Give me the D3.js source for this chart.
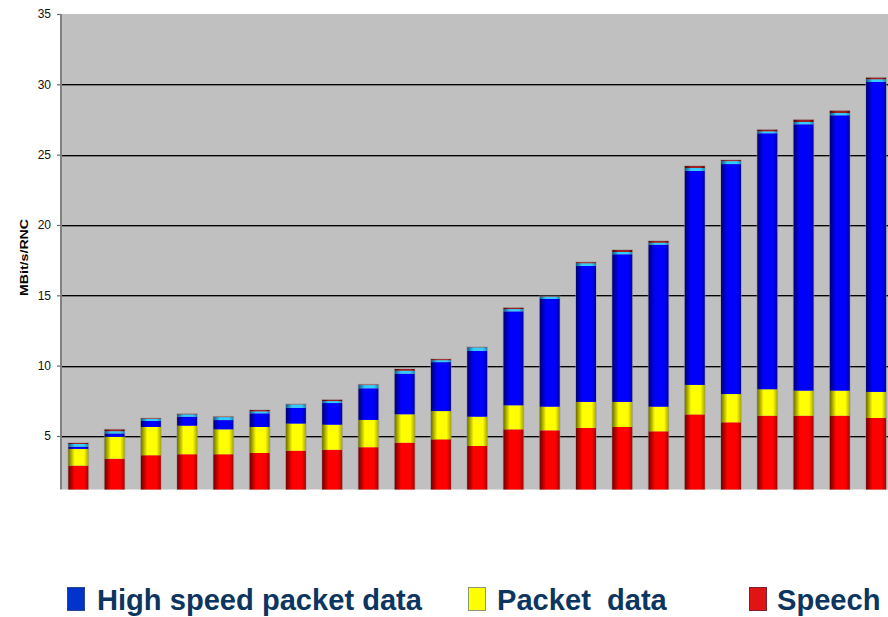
<!DOCTYPE html>
<html>
<head>
<meta charset="utf-8">
<script src="https://cdn.jsdelivr.net/npm/d3@7/dist/d3.min.js"></script>
<style>
  html, body { margin: 0; padding: 0; background: #ffffff; }
  svg { display: block; font-family: "Liberation Sans", Arial, Helvetica, sans-serif; }
</style>
</head>
<body>
<svg id="chart" width="888" height="617"></svg>
<script>
// Sites / RNC configurations along the horizontal axis (not labelled)
const categories = ["1","2","3","4","5","6","7","8","9","10","11","12","13","14","15","16","17","18","19","20","21","22","23"];

// Traffic per RNC, MBit/s, stacked bottom to top
const speech     = [2.89,3.38,3.63,3.70,3.70,3.79,3.95,4.02,4.20,4.52,4.76,4.29,5.47,5.40,5.57,5.64,5.33,6.53,5.97,6.44,6.44,6.44,6.28];
const packetData = [1.19,1.56,2.01,2.03,1.77,1.85,1.93,1.78,1.94,2.02,2.01,2.08,1.71,1.68,1.85,1.78,1.75,2.10,2.01,1.88,1.78,1.78,1.85];
const highSpeed  = [0.16,0.24,0.43,0.64,0.66,0.97,1.12,1.54,2.25,2.89,3.48,4.67,6.68,7.66,9.67,10.50,11.52,15.21,16.35,18.20,18.94,19.58,22.04];
const signalling = [0.19,0.16,0.14,0.17,0.21,0.14,0.24,0.14,0.23,0.21,0.14,0.26,0.16,0.16,0.19,0.16,0.14,0.21,0.21,0.14,0.16,0.16,0.19];
const control    = [0.07,0.12,0.04,0.03,0.03,0.09,0.02,0.09,0.03,0.12,0.07,0.02,0.09,0.03,0.07,0.14,0.12,0.14,0.07,0.11,0.16,0.16,0.11];

const yTicks = [5, 10, 15, 20, 25, 30, 35];
const yTitle = "MBit/s/RNC";

const seriesKeys   = ["speech", "packetData", "highSpeed", "signalling", "control"];
const seriesColors = {
  speech:     ["#6e0000", "#ff0000", "#a80000"],
  packetData: ["#6e6e00", "#ffff00", "#a8a800"],
  highSpeed:  ["#000070", "#0000ff", "#0000a8"],
  signalling: ["#0a5a8a", "#33ccff", "#1a86b8"],
  control:    ["#4a0000", "#a02020", "#600000"]
};

const legendItems = [
  { label: "High speed packet data", fill: "#0033cc", stroke: "#2a4a8a", box: 67, text: 97 },
  { label: "Packet  data",           fill: "#ffff00", stroke: "#8a9a6a", box: 468, text: 497 },
  { label: "Speech",                 fill: "#e01414", stroke: "#7a2030", box: 749, text: 777 }
];

// Table for the stack layout
const table = categories.map((c, i) => ({
  category: c,
  speech: speech[i],
  packetData: packetData[i],
  highSpeed: highSpeed[i],
  signalling: signalling[i],
  control: control[i]
}));

const svg = d3.select("#chart");

const plot = { left: 62, top: 14, bottom: 489.5, right: 888 };

const y = d3.scaleLinear().domain([0, 35]).range([506.3, 14]);
const x = d3.scaleBand()
  .domain(categories)
  .range([60.2, 894.2])
  .paddingInner(0.448)
  .paddingOuter(0.224);

// Cylinder-style horizontal shading for each series
const defs = svg.append("defs");
seriesKeys.forEach(k => {
  const [edge, mid, rightEdge] = seriesColors[k];
  const g = defs.append("linearGradient")
    .attr("id", "grad-" + k)
    .attr("x1", "0%").attr("x2", "100%").attr("y1", "0%").attr("y2", "0%");
  g.append("stop").attr("offset", "0%").attr("stop-color", edge);
  g.append("stop").attr("offset", "32%").attr("stop-color", mid);
  g.append("stop").attr("offset", "78%").attr("stop-color", mid);
  g.append("stop").attr("offset", "100%").attr("stop-color", rightEdge);
});

defs.append("clipPath").attr("id", "plot-clip")
  .append("rect")
  .attr("x", plot.left).attr("y", plot.top)
  .attr("width", plot.right - plot.left)
  .attr("height", plot.bottom - plot.top);

// Plot background
svg.append("rect")
  .attr("x", plot.left).attr("y", plot.top)
  .attr("width", plot.right - plot.left)
  .attr("height", plot.bottom - plot.top)
  .attr("fill", "#c0c0c0");

// Gridlines
const grid = svg.append("g");
yTicks.filter(t => t < 35).forEach(t => {
  grid.append("line")
    .attr("x1", plot.left).attr("x2", plot.right)
    .attr("y1", Math.round(y(t)) + 1.5).attr("y2", Math.round(y(t)) + 1.5)
    .attr("stroke", "#7a7a7a").attr("stroke-width", 1);
  grid.append("line")
    .attr("x1", plot.left).attr("x2", plot.right)
    .attr("y1", Math.round(y(t)) + 0.5).attr("y2", Math.round(y(t)) + 0.5)
    .attr("stroke", "#000000").attr("stroke-width", 1.2);
});

// Stacked bars
const stacked = d3.stack().keys(seriesKeys)(table);
const bars = svg.append("g").attr("clip-path", "url(#plot-clip)");

// faint halo around each column
bars.selectAll("rect.halo")
  .data(table)
  .join("rect")
  .attr("class", "halo")
  .attr("x", d => x(d.category) - 0.8)
  .attr("width", x.bandwidth() + 1.6)
  .attr("y", d => y(d.speech + d.packetData + d.highSpeed + d.signalling + d.control) - 0.8)
  .attr("height", d => y(0) - y(d.speech + d.packetData + d.highSpeed + d.signalling + d.control) + 0.8)
  .attr("fill", "#9a9a9a")
  .attr("opacity", 0.6);

bars.selectAll("g.series")
  .data(stacked)
  .join("g")
  .attr("class", "series")
  .attr("fill", s => `url(#grad-${s.key})`)
  .selectAll("rect")
  .data(s => s)
  .join("rect")
  .attr("x", d => x(d.data.category))
  .attr("width", x.bandwidth())
  .attr("y", d => y(d[1]))
  .attr("height", d => Math.max(0, y(d[0]) - y(d[1])));

// Left axis
const axis = svg.append("g")
  .attr("transform", `translate(${plot.left - 1},0)`)
  .call(d3.axisLeft(y).tickValues(yTicks).tickSize(4).tickPadding(6).tickSizeOuter(0));
axis.select(".domain").remove();
axis.selectAll(".tick line").attr("stroke", "#6a6a6a").attr("stroke-width", 1.2);
axis.selectAll(".tick text")
  .attr("font-size", 12)
  .attr("fill", "#111")
  .attr("font-family", "'Liberation Sans', Arial, sans-serif");

svg.append("line")
  .attr("x1", plot.left - 1).attr("x2", plot.left - 1)
  .attr("y1", plot.top).attr("y2", plot.bottom)
  .attr("stroke", "#808080").attr("stroke-width", 2);

// Axis title
svg.append("text")
  .attr("transform", "translate(27.5,257.5) rotate(-90) scale(1.42,1)")
  .attr("text-anchor", "middle")
  .attr("font-size", 10)
  .attr("font-weight", "bold")
  .attr("fill", "#000")
  .text(yTitle);

// Legend
const legend = svg.append("g");
legendItems.forEach(item => {
  legend.append("rect")
    .attr("x", item.box + 0.5).attr("y", 587.5)
    .attr("width", 17).attr("height", 23)
    .attr("fill", item.fill)
    .attr("stroke", item.stroke).attr("stroke-width", 1);
  legend.append("text")
    .attr("x", item.text).attr("y", 609.5)
    .attr("font-size", 29.1)
    .attr("font-weight", "bold")
    .attr("fill", "#0c3560")
    .attr("xml:space", "preserve")
    .style("white-space", "pre")
    .text(item.label);
});
</script>
</body>
</html>
